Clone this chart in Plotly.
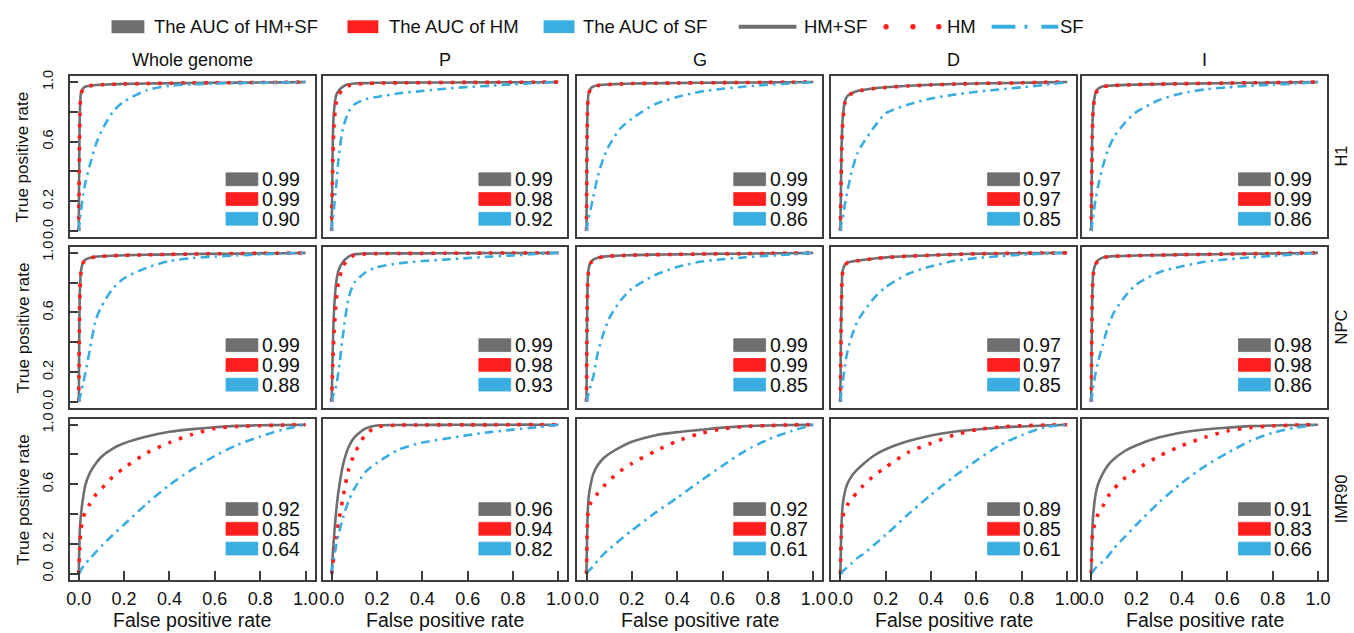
import plotly.graph_objects as go

W, H = 1354, 633
FONT = "Liberation Sans, Arial, Helvetica, sans-serif"

# ---------------------------------------------------------------- data
FPR = [0, 0.005, 0.01, 0.02, 0.03, 0.05, 0.075, 0.1, 0.15, 0.2,
       0.3, 0.4, 0.5, 0.6, 0.7, 0.8, 0.9, 1.0]

REGIONS = ["Whole genome", "P", "G", "D", "I"]
CELLS = ["H1", "NPC", "IMR90"]

# true positive rate at each FPR, one list per region (Whole genome, P, G, D, I)
H1_HMSF = [
    [0, 0.80, 0.93, 0.96, 0.97, 0.975, 0.98, 0.982, 0.985, 0.988, 0.99, 0.992, 0.994, 0.995, 0.996, 0.997, 0.998, 1.0],
    [0, 0.60, 0.80, 0.91, 0.94, 0.97, 0.985, 0.99, 0.993, 0.995, 0.996, 0.997, 0.997, 0.998, 0.998, 0.999, 0.999, 1.0],
    [0, 0.85, 0.93, 0.96, 0.97, 0.978, 0.982, 0.985, 0.988, 0.99, 0.992, 0.994, 0.995, 0.996, 0.997, 0.998, 0.999, 1.0],
    [0, 0.55, 0.75, 0.87, 0.905, 0.925, 0.94, 0.947, 0.958, 0.965, 0.975, 0.982, 0.987, 0.99, 0.993, 0.995, 0.998, 1.0],
    [0, 0.70, 0.85, 0.93, 0.955, 0.97, 0.975, 0.978, 0.981, 0.983, 0.986, 0.989, 0.991, 0.993, 0.995, 0.996, 0.998, 1.0],
]
H1_HM = [
    [0, 0.78, 0.92, 0.955, 0.965, 0.975, 0.98, 0.982, 0.985, 0.988, 0.99, 0.992, 0.994, 0.995, 0.996, 0.997, 0.998, 1.0],
    [0, 0.45, 0.70, 0.86, 0.91, 0.955, 0.975, 0.985, 0.99, 0.993, 0.995, 0.996, 0.997, 0.998, 0.998, 0.999, 0.999, 1.0],
    [0, 0.84, 0.925, 0.955, 0.968, 0.977, 0.981, 0.984, 0.987, 0.99, 0.992, 0.994, 0.995, 0.996, 0.997, 0.998, 0.999, 1.0],
    [0, 0.50, 0.72, 0.86, 0.90, 0.922, 0.938, 0.946, 0.957, 0.964, 0.974, 0.981, 0.986, 0.99, 0.993, 0.995, 0.998, 1.0],
    [0, 0.68, 0.84, 0.925, 0.95, 0.968, 0.974, 0.977, 0.98, 0.983, 0.986, 0.989, 0.991, 0.993, 0.995, 0.996, 0.998, 1.0],
]
H1_SF = [
    [0, 0.08, 0.14, 0.25, 0.33, 0.45, 0.58, 0.67, 0.80, 0.87, 0.945, 0.975, 0.985, 0.99, 0.993, 0.995, 0.997, 1.0],
    [0, 0.08, 0.15, 0.30, 0.48, 0.69, 0.80, 0.85, 0.885, 0.90, 0.925, 0.94, 0.955, 0.967, 0.975, 0.985, 0.993, 1.0],
    [0, 0.05, 0.09, 0.16, 0.23, 0.37, 0.49, 0.575, 0.69, 0.755, 0.85, 0.90, 0.935, 0.955, 0.97, 0.982, 0.991, 1.0],
    [0, 0.05, 0.09, 0.18, 0.26, 0.40, 0.52, 0.59, 0.70, 0.79, 0.85, 0.89, 0.915, 0.935, 0.95, 0.965, 0.98, 1.0],
    [0, 0.06, 0.12, 0.22, 0.30, 0.43, 0.55, 0.63, 0.73, 0.80, 0.88, 0.925, 0.95, 0.965, 0.975, 0.983, 0.99, 1.0],
]

NPC_HMSF = [
    [0, 0.75, 0.88, 0.94, 0.955, 0.968, 0.974, 0.977, 0.981, 0.984, 0.987, 0.99, 0.992, 0.994, 0.995, 0.997, 0.998, 1.0],
    [0, 0.35, 0.60, 0.80, 0.88, 0.94, 0.975, 0.99, 0.995, 0.996, 0.997, 0.997, 0.998, 0.998, 0.999, 0.999, 0.999, 1.0],
    [0, 0.80, 0.90, 0.94, 0.955, 0.968, 0.975, 0.978, 0.982, 0.985, 0.988, 0.99, 0.992, 0.994, 0.995, 0.997, 0.998, 1.0],
    [0, 0.70, 0.88, 0.92, 0.935, 0.942, 0.948, 0.953, 0.962, 0.97, 0.978, 0.984, 0.99, 0.994, 0.996, 0.998, 0.999, 1.0],
    [0, 0.75, 0.88, 0.93, 0.95, 0.968, 0.975, 0.978, 0.98, 0.982, 0.985, 0.988, 0.99, 0.992, 0.994, 0.996, 0.998, 1.0],
]
NPC_HM = [
    [0, 0.73, 0.87, 0.935, 0.952, 0.966, 0.973, 0.977, 0.981, 0.984, 0.987, 0.99, 0.992, 0.994, 0.995, 0.997, 0.998, 1.0],
    [0, 0.25, 0.45, 0.68, 0.80, 0.91, 0.96, 0.985, 0.993, 0.995, 0.996, 0.997, 0.998, 0.998, 0.999, 0.999, 0.999, 1.0],
    [0, 0.78, 0.89, 0.935, 0.952, 0.966, 0.974, 0.978, 0.982, 0.985, 0.988, 0.99, 0.992, 0.994, 0.995, 0.997, 0.998, 1.0],
    [0, 0.68, 0.87, 0.915, 0.932, 0.94, 0.947, 0.952, 0.961, 0.969, 0.978, 0.984, 0.99, 0.994, 0.996, 0.998, 0.999, 1.0],
    [0, 0.72, 0.87, 0.925, 0.947, 0.966, 0.974, 0.977, 0.98, 0.982, 0.985, 0.988, 0.99, 0.992, 0.994, 0.996, 0.998, 1.0],
]
NPC_SF = [
    [0, 0.03, 0.06, 0.13, 0.20, 0.36, 0.55, 0.64, 0.76, 0.83, 0.90, 0.945, 0.965, 0.975, 0.983, 0.99, 0.995, 1.0],
    [0, 0.03, 0.06, 0.11, 0.20, 0.45, 0.70, 0.80, 0.87, 0.905, 0.93, 0.945, 0.955, 0.965, 0.975, 0.983, 0.992, 1.0],
    [0, 0.03, 0.06, 0.12, 0.17, 0.33, 0.46, 0.56, 0.68, 0.76, 0.85, 0.905, 0.94, 0.957, 0.97, 0.981, 0.99, 1.0],
    [0, 0.07, 0.13, 0.24, 0.33, 0.44, 0.54, 0.60, 0.70, 0.77, 0.86, 0.91, 0.945, 0.965, 0.978, 0.988, 0.995, 1.0],
    [0, 0.06, 0.11, 0.20, 0.27, 0.38, 0.51, 0.60, 0.71, 0.79, 0.87, 0.91, 0.94, 0.957, 0.97, 0.98, 0.99, 1.0],
]

IMR90_HMSF = [
    [0, 0.30, 0.40, 0.52, 0.60, 0.68, 0.74, 0.785, 0.84, 0.875, 0.92, 0.952, 0.97, 0.983, 0.992, 0.996, 0.998, 1.0],
    [0, 0.13, 0.24, 0.42, 0.55, 0.73, 0.85, 0.915, 0.975, 0.995, 0.998, 0.998, 0.999, 0.999, 0.999, 1.0, 1.0, 1.0],
    [0, 0.40, 0.52, 0.61, 0.67, 0.73, 0.775, 0.805, 0.85, 0.885, 0.928, 0.95, 0.965, 0.98, 0.99, 0.995, 0.998, 1.0],
    [0, 0.33, 0.46, 0.55, 0.60, 0.655, 0.70, 0.735, 0.795, 0.835, 0.89, 0.928, 0.953, 0.968, 0.98, 0.988, 0.995, 1.0],
    [0, 0.30, 0.42, 0.54, 0.60, 0.67, 0.73, 0.77, 0.825, 0.862, 0.915, 0.948, 0.968, 0.98, 0.99, 0.995, 0.998, 1.0],
]
IMR90_HM = [
    [0, 0.20, 0.30, 0.38, 0.42, 0.47, 0.53, 0.57, 0.65, 0.71, 0.81, 0.88, 0.935, 0.975, 0.988, 0.993, 0.997, 1.0],
    [0, 0.06, 0.12, 0.25, 0.34, 0.51, 0.70, 0.80, 0.935, 0.985, 0.997, 0.998, 0.999, 0.999, 0.999, 1.0, 1.0, 1.0],
    [0, 0.38, 0.44, 0.48, 0.505, 0.54, 0.585, 0.625, 0.69, 0.74, 0.82, 0.89, 0.94, 0.972, 0.988, 0.994, 0.998, 1.0],
    [0, 0.30, 0.38, 0.43, 0.46, 0.50, 0.55, 0.59, 0.66, 0.715, 0.815, 0.875, 0.93, 0.966, 0.984, 0.993, 0.997, 1.0],
    [0, 0.26, 0.30, 0.36, 0.40, 0.45, 0.52, 0.57, 0.645, 0.70, 0.79, 0.86, 0.915, 0.958, 0.98, 0.992, 0.997, 1.0],
]
IMR90_SF = [
    [0, 0.01, 0.025, 0.05, 0.07, 0.10, 0.145, 0.185, 0.26, 0.33, 0.47, 0.595, 0.70, 0.79, 0.865, 0.92, 0.967, 1.0],
    [0, 0.06, 0.11, 0.19, 0.26, 0.375, 0.49, 0.57, 0.685, 0.745, 0.835, 0.88, 0.905, 0.93, 0.95, 0.967, 0.982, 1.0],
    [0, 0.01, 0.02, 0.035, 0.05, 0.09, 0.13, 0.165, 0.23, 0.29, 0.405, 0.51, 0.62, 0.725, 0.825, 0.90, 0.955, 1.0],
    [0, 0.005, 0.015, 0.03, 0.045, 0.07, 0.105, 0.13, 0.195, 0.26, 0.40, 0.53, 0.65, 0.76, 0.86, 0.93, 0.982, 1.0],
    [0, 0.01, 0.02, 0.04, 0.055, 0.08, 0.12, 0.17, 0.25, 0.33, 0.48, 0.61, 0.72, 0.81, 0.89, 0.945, 0.98, 1.0],
]

# area under each curve, per region
AUC_H1_HMSF = [0.99, 0.99, 0.99, 0.97, 0.99]
AUC_H1_HM = [0.99, 0.98, 0.99, 0.97, 0.99]
AUC_H1_SF = [0.90, 0.92, 0.86, 0.85, 0.86]
AUC_NPC_HMSF = [0.99, 0.99, 0.99, 0.97, 0.98]
AUC_NPC_HM = [0.99, 0.98, 0.99, 0.97, 0.98]
AUC_NPC_SF = [0.88, 0.93, 0.85, 0.85, 0.86]
AUC_IMR90_HMSF = [0.92, 0.96, 0.92, 0.89, 0.91]
AUC_IMR90_HM = [0.85, 0.94, 0.87, 0.85, 0.83]
AUC_IMR90_SF = [0.64, 0.82, 0.61, 0.61, 0.66]

TICKS = [0, 0.2, 0.4, 0.6, 0.8, 1.0]
X_TICK_TEXT = ["0.0", "0.2", "0.4", "0.6", "0.8", "1.0"]
Y_TICK_TEXT = ["0.0", "0.2", "", "0.6", "", "1.0"]

TPR = {
    "H1": (H1_HMSF, H1_HM, H1_SF),
    "NPC": (NPC_HMSF, NPC_HM, NPC_SF),
    "IMR90": (IMR90_HMSF, IMR90_HM, IMR90_SF),
}
AUC = {
    "H1": (AUC_H1_HMSF, AUC_H1_HM, AUC_H1_SF),
    "NPC": (AUC_NPC_HMSF, AUC_NPC_HM, AUC_NPC_SF),
    "IMR90": (AUC_IMR90_HMSF, AUC_IMR90_HM, AUC_IMR90_SF),
}

# ---------------------------------------------------------------- styling
GRAY, RED, BLUE = "#6f6f72", "#ff1e1e", "#3aaee0"
BOX = "#3c3c3c"
TXT = "#111111"
LINE_STYLES = [
    dict(color=GRAY, width=2.6, dash="solid"),
    dict(color=RED, width=3.6, dash="3.5px,8px"),
    dict(color=BLUE, width=2.6, dash="9px,5px,2.5px,5px"),
]
KEY_COLORS = [GRAY, RED, BLUE]

COL_LEFT = [67, 321, 577, 832, 1084]
ROW_TOP = [71, 244, 418]
PANEL_W, PANEL_H = 246, 163
KEY_TOP = [98, 93, 85]      # offset of the AUC key inside each row's panels


def fx(x):
    return x / W


def fy(y):
    return 1 - y / H


fig = go.Figure()
layout = dict(
    width=W, height=H, margin=dict(l=0, r=0, t=0, b=0),
    paper_bgcolor="white", plot_bgcolor="white", showlegend=False,
    font=dict(family=FONT, color=TXT),
)
shapes, annotations = [], []

for r, cell in enumerate(CELLS):
    for c, region in enumerate(REGIONS):
        idx = r * 5 + c + 1
        sfx = "" if idx == 1 else str(idx)
        xa, ya = "x" + sfx, "y" + sfx
        for k in range(3):
            fig.add_trace(go.Scatter(
                x=FPR, y=TPR[cell][k][c], xaxis=xa, yaxis=ya, mode="lines",
                line=dict(shape="spline", smoothing=0.7, **LINE_STYLES[k]),
                hoverinfo="skip",
            ))
        left, top = COL_LEFT[c], ROW_TOP[r]
        bottom_row = r == len(CELLS) - 1
        first_col = c == 0
        layout["xaxis" + sfx] = dict(
            domain=[fx(left), fx(left + PANEL_W)], range=[-0.04, 1.04],
            anchor=ya, showgrid=False, zeroline=False,
            showline=True, mirror=True, linecolor=BOX, linewidth=1.5,
            tickvals=TICKS, ticktext=X_TICK_TEXT,
            ticks="inside" if bottom_row else "", ticklen=9, tickwidth=1.5,
            tickcolor=BOX, showticklabels=bottom_row, ticklabelstandoff=2,
            tickfont=dict(size=18, color=TXT, family=FONT),
        )
        layout["yaxis" + sfx] = dict(
            domain=[fy(top + PANEL_H), fy(top)], range=[-0.04, 1.04],
            anchor=xa, showgrid=False, zeroline=False,
            showline=True, mirror=True, linecolor=BOX, linewidth=1.5,
            tickvals=TICKS, ticktext=Y_TICK_TEXT,
            ticks="inside" if first_col else "", ticklen=9, tickwidth=1.5,
            tickcolor=BOX, showticklabels=first_col, tickangle=-90,
            ticklabelstandoff=9,
            tickfont=dict(size=14.5, color=TXT, family=FONT),
        )
        # AUC key in the lower right of each panel
        for k in range(3):
            y_top = KEY_TOP[r] + 20 * k
            shapes.append(dict(
                type="rect", xref=xa + " domain", yref=ya + " domain",
                x0=157 / PANEL_W, x1=189 / PANEL_W,
                y0=1 - (y_top + 13) / PANEL_H, y1=1 - y_top / PANEL_H,
                fillcolor=KEY_COLORS[k], line=dict(width=0.8, color=KEY_COLORS[k]),
            ))
            annotations.append(dict(
                xref=xa + " domain", yref=ya + " domain",
                x=192 / PANEL_W, y=1 - (y_top + 6.5) / PANEL_H,
                xanchor="left", yanchor="middle", showarrow=False,
                height=18, valign="middle", borderpad=0,
                text=f"{AUC[cell][k][c]:.2f}", font=dict(size=19.5, color=TXT),
            ))

# column titles and x axis titles
for c, region in enumerate(REGIONS):
    cx = fx(COL_LEFT[c] + PANEL_W / 2)
    annotations.append(dict(xref="paper", yref="paper", x=cx, y=fy(55),
                            text=region, showarrow=False, xanchor="center",
                            yanchor="middle", font=dict(size=18, color=TXT)))
    annotations.append(dict(xref="paper", yref="paper", x=cx, y=fy(622),
                            text="False positive rate", showarrow=False,
                            xanchor="center", yanchor="middle",
                            font=dict(size=19.5, color=TXT)))

# y axis titles and row labels
for r, cell in enumerate(CELLS):
    cy = fy(ROW_TOP[r] + PANEL_H / 2)
    annotations.append(dict(xref="paper", yref="paper", x=fx(20), y=cy,
                            text="True positive rate", textangle=-90,
                            showarrow=False, xanchor="center", yanchor="middle",
                            font=dict(size=17, color=TXT)))
    annotations.append(dict(xref="paper", yref="paper", x=fx(1344), y=cy,
                            text=cell, textangle=-90, showarrow=False,
                            xanchor="center", yanchor="middle",
                            font=dict(size=16.5, color=TXT)))

# figure key across the top
KEY_Y = 21
for x0, x1, color, label, tx in [(109, 142, GRAY, "The AUC of HM+SF", 150),
                                 (346, 377, RED, "The AUC of HM", 386),
                                 (543, 574, BLUE, "The AUC of SF", 581)]:
    shapes.append(dict(type="rect", xref="paper", yref="paper",
                       x0=fx(x0), x1=fx(x1), y0=fy(KEY_Y + 6.5), y1=fy(KEY_Y - 6.5),
                       fillcolor=color, line=dict(width=0)))
    annotations.append(dict(xref="paper", yref="paper", x=fx(tx), y=fy(KEY_Y),
                            text=label, showarrow=False, xanchor="left",
                            yanchor="middle", font=dict(size=18.5, color=TXT)))

shapes.append(dict(type="line", xref="paper", yref="paper", x0=fx(739), x1=fx(797),
                   y0=fy(KEY_Y), y1=fy(KEY_Y), line=dict(color=GRAY, width=4)))
annotations.append(dict(xref="paper", yref="paper", x=fx(803), y=fy(KEY_Y),
                        text="HM+SF", showarrow=False, xanchor="left",
                        yanchor="middle", font=dict(size=18.5, color=TXT)))
for dx in (887, 914, 940):
    shapes.append(dict(type="circle", xref="paper", yref="paper",
                       x0=fx(dx - 2.7), x1=fx(dx + 2.7),
                       y0=fy(KEY_Y + 2.7), y1=fy(KEY_Y - 2.7),
                       fillcolor=RED, line=dict(width=0)))
annotations.append(dict(xref="paper", yref="paper", x=fx(946), y=fy(KEY_Y),
                        text="HM", showarrow=False, xanchor="left",
                        yanchor="middle", font=dict(size=18.5, color=TXT)))
for x0, x1 in [(993, 1017), (1026, 1029), (1043, 1060)]:
    shapes.append(dict(type="line", xref="paper", yref="paper", x0=fx(x0), x1=fx(x1),
                       y0=fy(KEY_Y), y1=fy(KEY_Y), line=dict(color=BLUE, width=4)))
annotations.append(dict(xref="paper", yref="paper", x=fx(1060), y=fy(KEY_Y),
                        text="SF", showarrow=False, xanchor="left",
                        yanchor="middle", font=dict(size=18.5, color=TXT)))

layout["shapes"] = shapes
layout["annotations"] = annotations
fig.update_layout(**layout)
fig.write_html("out.html")
